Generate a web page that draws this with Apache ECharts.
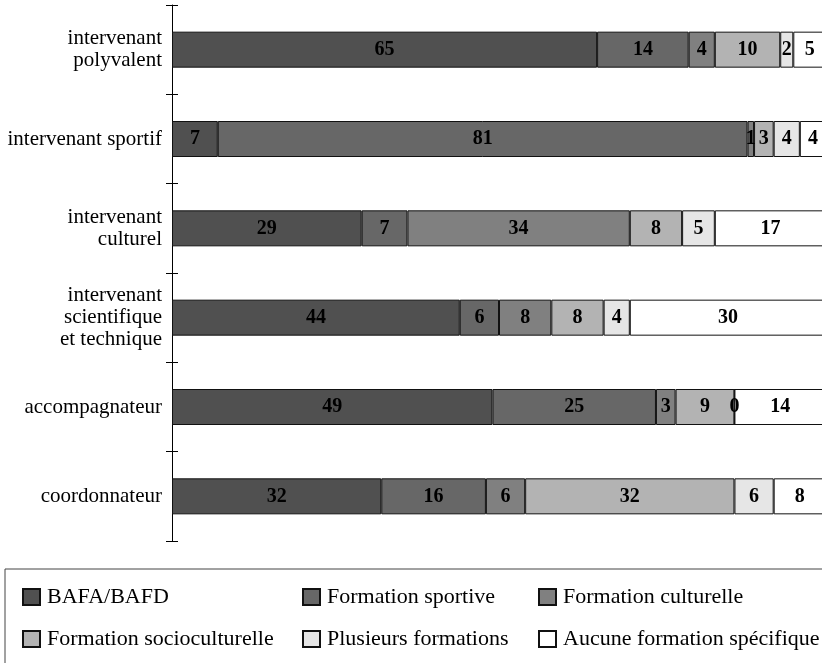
<!DOCTYPE html>
<html>
<head>
<meta charset="utf-8">
<script src="https://cdn.jsdelivr.net/npm/echarts@6/dist/echarts.min.js"></script>
<style>
  html, body { margin: 0; padding: 0; background: #fff; }
  #chart { width: 822px; height: 663px; }
</style>
</head>
<body>
<div id="chart"></div>
<script>
// Profils d'intervenants (lignes) et type de formation (segments, en %)
const categories = [
  'intervenant\npolyvalent',
  'intervenant sportif',
  'intervenant\nculturel',
  'intervenant\nscientifique\net technique',
  'accompagnateur',
  'coordonnateur'
];

const bafa            = [65, 7, 29, 44, 49, 32];
const sportive        = [14, 81, 7, 6, 25, 16];
const culturelle      = [4, 1, 34, 8, 3, 6];
const socioculturelle = [10, 3, 8, 8, 9, 32];
const plusieurs       = [2, 4, 5, 4, 0, 6];
const aucune          = [5, 4, 17, 30, 14, 8];

const seriesDefs = [
  { name: 'BAFA/BAFD', data: bafa, color: '#505050' },
  { name: 'Formation sportive', data: sportive, color: '#676767' },
  { name: 'Formation culturelle', data: culturelle, color: '#808080' },
  { name: 'Formation socioculturelle', data: socioculturelle, color: '#b3b3b3' },
  { name: 'Plusieurs formations', data: plusieurs, color: '#e6e6e6' },
  { name: 'Aucune formation spécifique', data: aucune, color: '#ffffff' }
];

const serif = '"Liberation Serif", "DejaVu Serif", serif';

const chart = echarts.init(document.getElementById('chart'), null, { renderer: 'canvas' });

const legendBase = {
  orient: 'vertical',
  itemWidth: 17,
  itemHeight: 16,
  itemGap: 20,
  icon: 'rect',
  top: 586,
  padding: 0,
  textStyle: { fontFamily: serif, fontSize: 22, color: '#000', padding: [0, 0, 0, 2] },
  selectedMode: false
};

chart.setOption({
  animation: false,
  backgroundColor: '#fff',
  grid: { left: 172, top: 5, width: 654, height: 536, containLabel: false, outerBoundsMode: 'none' },
  xAxis: {
    type: 'value',
    min: 0,
    max: 100,
    show: false
  },
  yAxis: [
    {
      type: 'category',
      data: categories,
      inverse: true,
      axisLine: { show: true, lineStyle: { color: '#000', width: 1 } },
      axisTick: { show: true, length: 6, lineStyle: { color: '#000' } },
      axisLabel: {
        margin: 10,
        fontFamily: serif,
        fontSize: 21,
        lineHeight: 22,
        padding: [4, 0, 0, 0],
        color: '#000',
        align: 'right'
      },
      splitLine: { show: false }
    },
    {
      type: 'category',
      data: categories,
      inverse: true,
      position: 'left',
      axisLine: { show: false },
      axisTick: { show: true, inside: true, length: 6, lineStyle: { color: '#000' } },
      axisLabel: { show: false },
      splitLine: { show: false }
    }
  ],
  legend: [
    Object.assign({}, legendBase, { left: 22, data: ['BAFA/BAFD', 'Formation socioculturelle'] }),
    Object.assign({}, legendBase, { left: 302, data: ['Formation sportive', 'Plusieurs formations'] }),
    Object.assign({}, legendBase, { left: 538, data: ['Formation culturelle', 'Aucune formation spécifique'] })
  ],
  graphic: [
    {
      type: 'rect',
      shape: { x: 5, y: 569, width: 830, height: 120 },
      style: { fill: 'none', stroke: '#444', lineWidth: 1 },
      silent: true
    }
  ],
  series: seriesDefs.map(s => ({
    name: s.name,
    type: 'bar',
    stack: 'total',
    data: s.data,
    barWidth: 36,
    itemStyle: { color: s.color, borderColor: '#111', borderWidth: 1 },
    label: {
      show: true,
      position: 'inside',
      fontFamily: serif,
      fontSize: 20,
      fontWeight: 'bold',
      color: '#000'
    }
  }))
});
</script>
</body>
</html>
